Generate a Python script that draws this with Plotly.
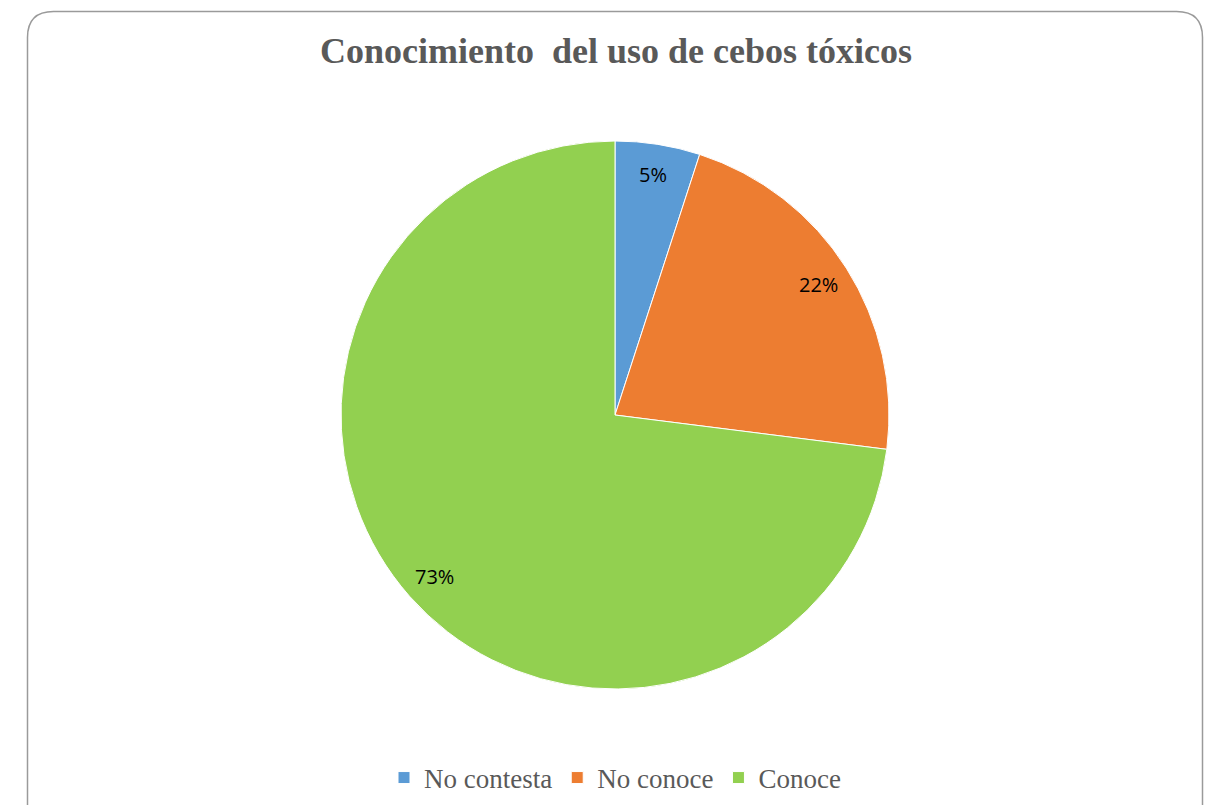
import math
import plotly.graph_objects as go

# Survey answers and their share (%)
categories = ["No contesta", "No conoce", "Conoce"]
values = [5, 22, 73]
colors = ["#5B9BD5", "#ED7D31", "#92D050"]
title_text = "Conocimiento  del uso de cebos tóxicos"

W, H = 1211, 805
cx, cy, R = 615, 415, 274  # pie centre and radius in pixels

fig = go.Figure()
fig.add_trace(go.Pie(
    labels=categories,
    values=values,
    sort=False,
    direction="clockwise",
    rotation=0,
    marker=dict(colors=colors, line=dict(color="#FFFFFF", width=1)),
    textinfo="none",
    hoverinfo="label+percent",
    domain=dict(x=[(cx - R) / W, (cx + R) / W], y=[1 - (cy + R) / H, 1 - (cy - R) / H]),
))

# Percentage labels along each slice's mid-angle, inside the pie
total = sum(values)
cum = 0
for v in values:
    ang = 2 * math.pi * (cum + v / 2) / total
    cum += v
    px = cx + 0.88 * R * math.sin(ang)
    py = cy - 0.89 * R * math.cos(ang)
    fig.add_annotation(
        x=px / W, y=1 - py / H, xref="paper", yref="paper",
        xanchor="center", yanchor="middle",
        text=f"{round(100 * v / total)}%", showarrow=False,
        font=dict(family="Open Sans, Noto Sans, sans-serif", size=20, color="#000000"),
    )

# Rounded chart-area border
x0, x1 = 27.5 / W, 1202.5 / W
y0, y1 = 1 - 815 / H, 1 - 11.5 / H
rx, ry = 26 / W, 26 / H
path = (f"M {x0},{y0} L {x0},{y1 - ry} Q {x0},{y1} {x0 + rx},{y1} "
        f"L {x1 - rx},{y1} Q {x1},{y1} {x1},{y1 - ry} L {x1},{y0}")
fig.add_shape(type="path", path=path, xref="paper", yref="paper",
              line=dict(color="#9A9A9A", width=1.5))

fig.update_layout(
    width=W, height=H,
    margin=dict(l=0, r=0, t=0, b=0),
    paper_bgcolor="#FFFFFF",
    plot_bgcolor="#FFFFFF",
    title=dict(
        text=title_text, x=616 / W, xanchor="center", y=1 - 50 / H, yanchor="middle",
        font=dict(family="Liberation Serif, Times New Roman, serif", size=36, color="#595959",
                  weight="bold"),
    ),
    showlegend=True,
    legend=dict(
        orientation="h", x=615 / W, xanchor="center", y=1 - 778 / H, yanchor="middle",
        font=dict(family="Liberation Serif, Times New Roman, serif", size=27, color="#595959"),
        itemwidth=30, traceorder="normal",
    ),
)

fig.write_html("out.html")
